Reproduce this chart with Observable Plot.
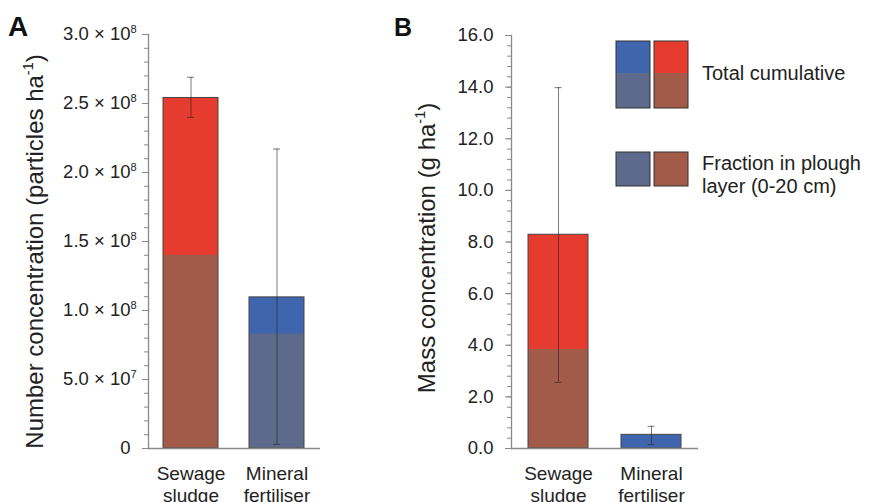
<!DOCTYPE html>
<html><head><meta charset="utf-8">
<script src="https://cdn.jsdelivr.net/npm/d3@7"></script>
<script src="https://cdn.jsdelivr.net/npm/@observablehq/plot@0.6"></script>
<style>
html,body{margin:0;padding:0;background:#fff;overflow:hidden;}
#wrap{position:relative;width:871px;height:502px;font-family:"Liberation Sans",Arial,sans-serif;}
#wrap svg{overflow:visible;}
.panel{position:absolute;top:0;}
</style></head><body><div id="wrap"></div>
<script>
// ---- data ----
const categories = ["Sewage sludge", "Mineral fertiliser"];
const categoryLabels = ["Sewage\nsludge", "Mineral\nfertiliser"];

const numberTotal = [2.54e8, 1.095e8];
const numberPlough = [1.40e8, 0.83e8];
const numberErrLow = [2.40e8, 0.03e8];
const numberErrHigh = [2.69e8, 2.17e8];

const massTotal = [8.28, 0.53];
const massPlough = [3.84, 0];
const massErrLow = [2.56, 0.15];
const massErrHigh = [13.98, 0.86];

const totalColors = ["#e63c2f", "#3e65ad"];
const ploughColors = ["#a25b49", "#5d6a8c"];

const yTicksA = [0, 5e7, 1e8, 1.5e8, 2e8, 2.5e8, 3e8];
const yTickLabelsA = ["0", "5.0 × 10^{7}", "1.0 × 10^{8}", "1.5 × 10^{8}", "2.0 × 10^{8}", "2.5 × 10^{8}", "3.0 × 10^{8}"];
const yTicksB = [0, 2, 4, 6, 8, 10, 12, 14, 16];
const yTickLabelsB = ["0.0", "2.0", "4.0", "6.0", "8.0", "10.0", "12.0", "14.0", "16.0"];

const titleA = "Number concentration (particles ha^{-1})";
const titleB = "Mass concentration (g ha^{-1})";
const legendLabels = ["Total cumulative", "Fraction in plough\nlayer (0-20 cm)"];

// ---- helpers ----
const FONT = '"Liberation Sans", Arial, sans-serif';
const AXIS = "#8a8a8a";
const INK = "#222";

function supify(svg, hang) {
  svg.querySelectorAll("text").forEach(t => {
    const s = t.textContent;
    if (!s.includes("^{")) return;
    const fs = parseFloat(getComputedStyle(t).fontSize);
    t.textContent = "";
    const parts = s.split(/(\^\{[^}]*\})/);
    let raised = false, supW = 0, lastSup = null;
    for (const p of parts) {
      if (!p) continue;
      const ts = document.createElementNS("http://www.w3.org/2000/svg", "tspan");
      const m = p.match(/^\^\{(.*)\}$/);
      if (m) {
        ts.textContent = m[1];
        ts.setAttribute("font-size", fs * 0.6);
        ts.setAttribute("dy", -fs * 0.42);
        raised = true; lastSup = ts;
      } else {
        ts.textContent = p;
        if (raised) { ts.setAttribute("dy", fs * 0.42); raised = false; lastSup = null; }
      }
      t.appendChild(ts);
    }
    if (hang && lastSup) {
      supW = lastSup.getComputedTextLength();
      t.setAttribute("x", supW);
    }
  });
}

function panel(o) {
  const rows = categories.map((c, i) => ({
    cat: c, total: o.total[i], plough: o.plough[i], lo: o.lo[i], hi: o.hi[i],
    tc: totalColors[i], pc: ploughColors[i]
  }));
  const tickMap = new Map(o.ticks.map((t, i) => [t, o.tickLabels[i]]));
  const catMap = new Map(categories.map((c, i) => [c, categoryLabels[i]]));
  const eb = {x: "cat", stroke: "#222", strokeOpacity: 0.6, strokeWidth: 1};
  return Plot.plot({
    width: o.width, height: 502,
    marginLeft: o.marginLeft, marginRight: o.marginRight, marginTop: o.marginTop, marginBottom: 54,
    style: {fontFamily: FONT, background: "transparent", overflow: "visible"},
    x: {domain: categories, paddingInner: 0.36, paddingOuter: 0.18, axis: null},
    y: {domain: [0, o.max], axis: null},
    marks: [
      Plot.barY(rows, {x: "cat", y: "total", fill: "tc"}),
      Plot.barY(rows.filter(d => d.plough > 0), {x: "cat", y: "plough", fill: "pc"}),
      Plot.barY(rows, {x: "cat", y: "total", fill: "none", stroke: "#444", strokeWidth: 1}),
      Plot.ruleX(rows, {...eb, y1: "lo", y2: "hi"}),
      Plot.tickY(rows, {...eb, y: "hi", insetLeft: o.inset, insetRight: o.inset}),
      Plot.tickY(rows, {...eb, y: "lo", insetLeft: o.inset, insetRight: o.inset}),
      Plot.ruleY([0], {stroke: AXIS, strokeWidth: 1.3}),
      Plot.frame({anchor: "left", stroke: AXIS, strokeWidth: 1.3}),
      Plot.axisY({ticks: o.minor, tickFormat: () => "", tickSize: 4, stroke: AXIS, label: null}),
      Plot.axisY({ticks: o.ticks, tickFormat: d => tickMap.get(d), tickSize: 6, tickPadding: 12,
        fontSize: 18.5, stroke: AXIS, fill: INK, label: null}),
      Plot.axisX({tickFormat: d => catMap.get(d), tickSize: 0, tickPadding: 15, fontSize: 19,
        lineHeight: 1.2, fill: INK, label: null}),
      Plot.text([o.title], {text: d => d, frameAnchor: "left", rotate: -90, textAnchor: "middle",
        dx: o.titleDx, dy: o.titleDy, fontSize: 24, fill: INK})
    ]
  });
}

const wrap = document.getElementById("wrap");

const pA = panel({
  width: 380, marginLeft: 148, marginRight: 60, marginTop: 34, max: 3e8,
  total: numberTotal, plough: numberPlough, lo: numberErrLow, hi: numberErrHigh,
  ticks: yTicksA, tickLabels: yTickLabelsA, minor: d3.range(0, 3e8 + 1, 1e7),
  title: titleA, titleDx: -113, titleDy: 10, inset: 24
});
pA.classList.add("panel"); pA.style.left = "0px";
wrap.appendChild(pA);

const pB = panel({
  width: 491, marginLeft: 131, marginRight: 173, marginTop: 35, max: 16,
  total: massTotal, plough: massPlough, lo: massErrLow, hi: massErrHigh,
  ticks: yTicksB, tickLabels: yTickLabelsB, minor: d3.range(0, 16.01, 0.4),
  title: titleB, titleDx: -84, titleDy: 6, inset: 26.5
});
pB.classList.add("panel"); pB.style.left = "380px";
wrap.appendChild(pB);

supify(pA, true);
supify(pB, true);

// ---- overlay: panel letters + legend ----
const ov = d3.select(wrap).append("svg")
  .attr("width", 871).attr("height", 502)
  .style("position", "absolute").style("left", 0).style("top", 0)
  .style("font-family", FONT);

ov.append("text").attr("x", 8).attr("y", 36).attr("font-size", 28).attr("font-weight", "bold").attr("fill", "#111").text("A");
ov.append("text").attr("x", 394).attr("y", 36).attr("font-size", 25).attr("font-weight", "bold").attr("fill", "#111").text("B");

const cols = [1, 0]; // blue column first, red second
const sw = 34, colX = [616, 654];
const lg = ov.append("g");
cols.forEach((ci, k) => {
  const x = colX[k];
  lg.append("rect").attr("x", x).attr("y", 41).attr("width", sw).attr("height", 32).attr("fill", totalColors[ci]);
  lg.append("rect").attr("x", x).attr("y", 73).attr("width", sw).attr("height", 35).attr("fill", ploughColors[ci]);
  lg.append("rect").attr("x", x).attr("y", 41).attr("width", sw).attr("height", 67).attr("fill", "none").attr("stroke", "#333");
  lg.append("rect").attr("x", x).attr("y", 152).attr("width", sw).attr("height", 34).attr("fill", ploughColors[ci]).attr("stroke", "#333");
});
lg.append("text").attr("x", 702).attr("y", 80).attr("font-size", 20).attr("fill", INK).text(legendLabels[0]);
const l2 = lg.append("text").attr("x", 702).attr("y", 170).attr("font-size", 20).attr("fill", INK);
legendLabels[1].split("\n").forEach((line, i) => {
  l2.append("tspan").attr("x", 702).attr("dy", i ? 23 : 0).text(line);
});
</script></body></html>
